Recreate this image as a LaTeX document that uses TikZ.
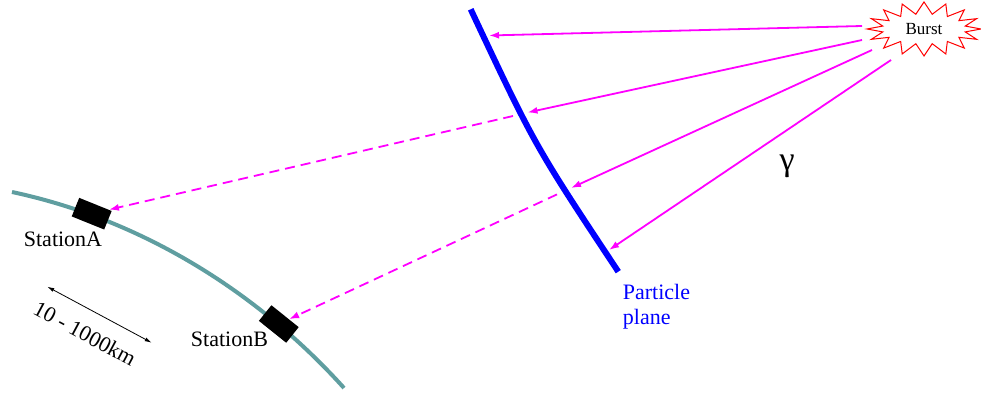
\documentclass[tikz,border=0pt]{standalone}
\usepackage{fontspec}
\setmainfont{Liberation Serif}
\usetikzlibrary{arrows.meta}
\definecolor{groundc}{RGB}{95,158,160}
\definecolor{mag}{RGB}{255,0,255}
\begin{document}
\begin{tikzpicture}[x=1pt,y=1pt,
  ray/.style={mag, line width=1.8pt, -{Latex[length=10pt,width=7pt]}},
  dray/.style={ray, dash pattern=on 10pt off 6pt},
  station/.style={fill=black, minimum width=35pt, minimum height=20pt, inner sep=0pt},
  lbl/.style={font=\rmfamily\fontsize{22}{26}\selectfont, inner sep=0pt}]
\useasboundingbox (0,0) rectangle (981,393);

% ground
\coordinate (g1) at (12,201);
\coordinate (g2) at (344,5);
\draw[groundc, line width=4pt] (g1) to[out=-12,in=132,looseness=0.87] (g2);

% stations
\node[station, rotate=-22] (sA) at (91.7,179.3) {};
\node[station, rotate=-38.7] (sB) at (278.8,69) {};
\node[lbl, anchor=base] (lA) at (63,146.3) {StationA};
\node[lbl, anchor=base] (lB) at (229.5,46.3) {StationB};

% distance
\coordinate (dl) at (47.3,106.3);
\coordinate (dr) at (151.7,50.3);
\draw[line width=0.8pt, {Latex[length=7pt,width=4pt]}-{Latex[length=7pt,width=4pt]}] (dl) -- (dr);
\node[lbl, rotate=-28.2] (dist) at (85,59.5) {10 - 1000km};

% particle plane
\coordinate (pt) at (470.7,383.7);
\coordinate (pb) at (618.3,121.3);
\draw[blue, line width=6pt] (pt) .. controls (534.9,247.1) .. (pb);
\node[lbl, text=blue, anchor=base west] (pp1) at (622.7,93) {Particle};
\node[lbl, text=blue, anchor=base west] (pp2) at (622.7,68) {plane};

% burst
\draw[red, line width=1pt, fill=white] plot[samples=33, domain=0:32, variable=\i]
  ({924+(57-7.5*(1-cos(\i*180)))*cos(\i*11.25)}, {364+(27-6*(1-cos(\i*180)))*sin(\i*11.25)}) -- cycle;
\node[font=\rmfamily\fontsize{17}{20}\selectfont, inner sep=0pt] (burst) at (924,364) {Burst};

% gamma
\node[font=\rmfamily\fontsize{34}{38}\selectfont, inner sep=0pt] (gamma) at (787,227) {γ};

% rays
\coordinate (b1) at (862,367);
\coordinate (b2) at (862,353);
\coordinate (b3) at (872,343);
\coordinate (b4) at (891,333);
\coordinate (p1) at (489,357.5);
\coordinate (p2) at (527.5,280.5);
\coordinate (p3) at (571,205);
\coordinate (p4) at (609,143);
\coordinate (d2) at (513,277);
\coordinate (d3) at (557,198.6);
\draw[ray] (b1) -- (p1);
\draw[ray] (b2) -- (p2);
\draw[ray] (b3) -- (p3);
\draw[ray] (b4) -- (p4);
\draw[dray] (d2) -- (sA);
\draw[dray] (d3) -- (sB);
\end{tikzpicture}
\end{document}
